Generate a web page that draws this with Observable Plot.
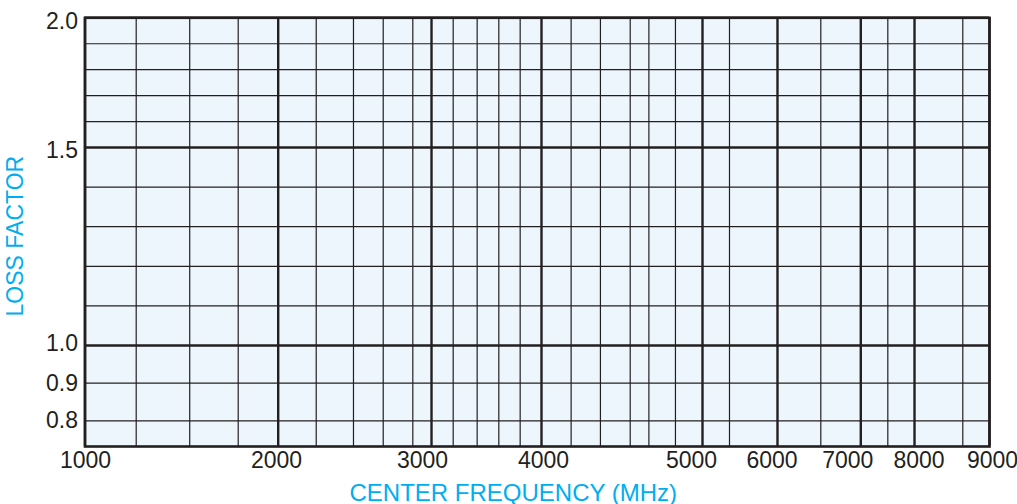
<!DOCTYPE html>
<html>
<head>
<meta charset="utf-8">
<script src="https://cdn.jsdelivr.net/npm/d3@7"></script>
<script src="https://cdn.jsdelivr.net/npm/@observablehq/plot@0.6"></script>
<style>
  html, body { margin: 0; padding: 0; background: #ffffff; }
  #chart svg { display: block; }
</style>
</head>
<body>
<div id="chart"></div>
<script>
const xMajor = [1000, 2000, 3000, 4000, 5000, 6000, 7000, 8000, 9000];
const xTickLabels = ["1000", "2000", "3000", "4000", "5000", "6000", "7000", "8000", "9000"];
const xMinor = [1265, 1542, 1793, 2248, 2491, 2685, 2878, 3197, 3415, 3612, 3806,
                4184, 4366, 4551, 4667, 4832, 5360, 6520, 7503, 8644];
const yMajor = [1.0, 1.5, 2.0];
const yMinor = [0.8, 0.9, 1.1, 1.2, 1.3, 1.4, 1.6, 1.7, 1.8, 1.9];
const yTicks = [0.8, 0.9, 1.0, 1.5, 2.0];
const yTickLabels = ["0.8", "0.9", "1.0", "1.5", "2.0"];
const yDomain = [0.732, 1.0, 1.5, 2.0];
const xTitle = "CENTER FREQUENCY (MHz)";
const yTitle = "LOSS FACTOR";

// ---- layout (the paper's non-uniform scale, as fractions of the frame) ----
const W = 1017, H = 504;
const mL = 84.5, mR = 28, mT = 17.3, mB = 58;
const xStops = [0, 0.2136, 0.3831, 0.5047, 0.6827, 0.7656, 0.8577, 0.9171, 1];
const yStops = [0, 0.2356, 0.6975, 1];
const xRange = xStops.map(f => mL + f * (W - mL - mR));
const yRange = yStops.map(f => (H - mB) - f * (H - mT - mB));
// label nudges (px) as the labels sit in the reference
const xLabelNudge = [0.5, -1.7, -9, 2, -11, -5.5, -13, 4.5, 3];
const yLabelNudge = [0, 0, -2, 3, 3.5];

const ink = "#231f20";
const cyan = "#00aeef";

const xAxes = xMajor.map((v, i) => Plot.axisX([v], {
  tickSize: 0, tickPadding: 5, fontSize: 23, fill: ink, label: null,
  dx: xLabelNudge[i], tickFormat: () => xTickLabels[i]
}));
const yAxes = yTicks.map((v, i) => Plot.axisY([v], {
  tickSize: 0, tickPadding: 7, fontSize: 23, fill: ink, label: null,
  dy: yLabelNudge[i], tickFormat: () => yTickLabels[i]
}));

const chart = Plot.plot({
  width: W,
  height: H,
  marginLeft: mL,
  marginRight: mR,
  marginTop: mT,
  marginBottom: mB,
  style: { fontFamily: "'Liberation Sans', Arial, Helvetica, sans-serif", background: "#ffffff", overflow: "visible" },
  x: { type: "linear", domain: xMajor, range: xRange },
  y: { type: "linear", domain: yDomain, range: yRange },
  marks: [
    Plot.frame({ fill: "#eef6fd", stroke: null }),
    Plot.ruleX(xMinor, { stroke: ink, strokeWidth: 1.2 }),
    Plot.ruleY(yMinor, { stroke: ink, strokeWidth: 1.2 }),
    Plot.ruleX(xMajor, { stroke: ink, strokeWidth: 2.4 }),
    Plot.ruleY(yMajor, { stroke: ink, strokeWidth: 2.4 }),
    Plot.frame({ stroke: ink, strokeWidth: 2.6 }),
    ...xAxes,
    ...yAxes,
    Plot.text([xTitle], {
      frameAnchor: "bottom", lineAnchor: "bottom", textAnchor: "middle",
      dx: -24, dy: 54, fill: cyan, fontSize: 24, text: d => d
    }),
    Plot.text([yTitle], {
      frameAnchor: "left", lineAnchor: "bottom", textAnchor: "middle", rotate: -90,
      dx: -62, dy: 4, fill: cyan, fontSize: 23, text: d => d
    })
  ]
});
document.getElementById("chart").appendChild(chart);
</script>
</body>
</html>
